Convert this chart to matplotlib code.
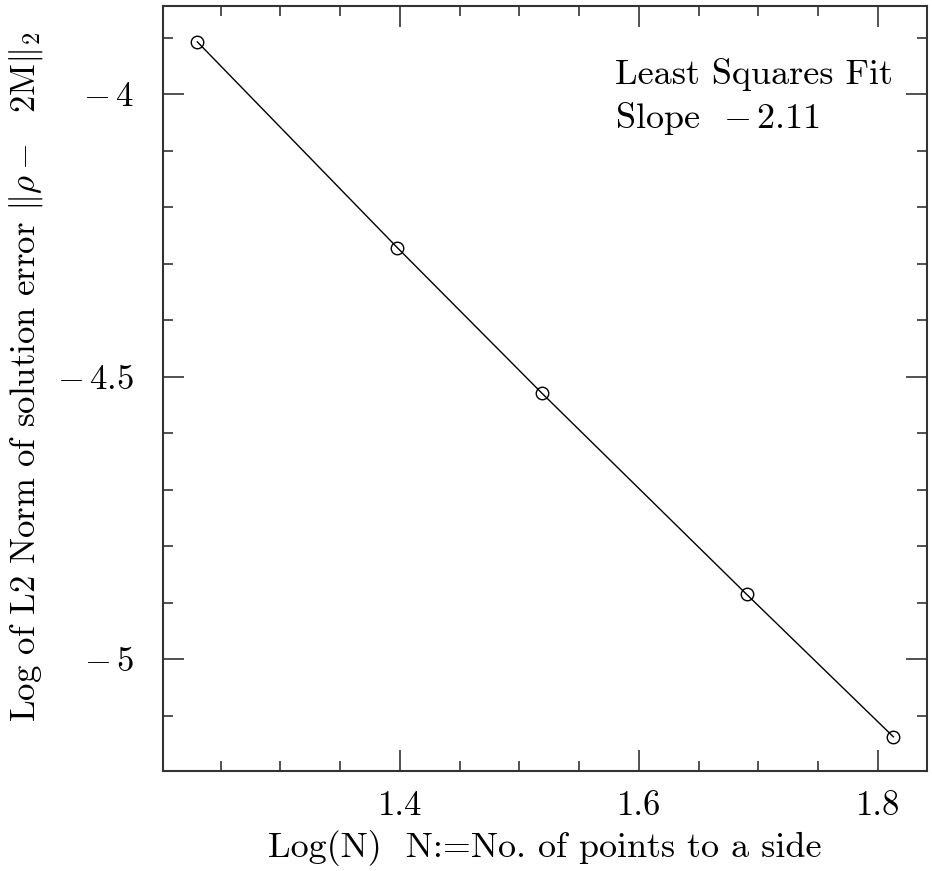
import numpy as np
import matplotlib
matplotlib.use("Agg")
import matplotlib.pyplot as plt
from matplotlib.ticker import MultipleLocator, FuncFormatter

# Data
log_n = [1.2304, 1.3979, 1.5185, 1.6902, 1.8129]
log_err = [-3.9074, -4.272, -4.5287, -4.8855, -5.1375]
slope_text = "-2.11"

plt.rcParams['font.family'] = ['cmr10', 'DejaVu Serif']
plt.rcParams['mathtext.fontset'] = 'cm'
plt.rcParams['axes.formatter.use_mathtext'] = True


def fmt_num(v, p=None):
    s = '%g' % round(v, 3)
    if s.startswith('-'):
        return r'$-\,$' + s[1:]
    return s


fig = plt.figure(figsize=(9.32, 8.71), dpi=100)
ax = fig.add_axes([0.1749, 0.1148, 0.9946 - 0.1749, 0.9931 - 0.1148])

ax.plot(log_n, log_err, color='black', lw=1.0, marker='o', ms=9,
        mfc='none', mec='black', mew=1.0)

ax.set_xlim(1.2017, 1.841)
ax.set_ylim(-5.198, -3.844)

ax.xaxis.set_major_locator(MultipleLocator(0.2))
ax.xaxis.set_minor_locator(MultipleLocator(0.05))
ax.yaxis.set_major_locator(MultipleLocator(0.5))
ax.yaxis.set_minor_locator(MultipleLocator(0.1))
ax.xaxis.set_major_formatter(FuncFormatter(fmt_num))
ax.yaxis.set_major_formatter(FuncFormatter(fmt_num))

ax.tick_params(which='both', direction='in', top=True, right=True,
               color='#333333', width=1.2, labelsize=25)
ax.tick_params(axis='x', pad=14)
ax.tick_params(axis='y', pad=21)
ax.tick_params(which='major', length=15)
ax.tick_params(which='minor', length=7.5)
for s in ax.spines.values():
    s.set_linewidth(1.5)
    s.set_color('#333333')

ax.set_xlabel("Log(N)  N:=No. of points to a side", fontsize=26, labelpad=6)
ax.set_ylabel(r"Log of L2 Norm of solution error $\|\rho-$  2M$\|_2$",
              fontsize=25)
ax.yaxis.set_label_coords(-0.154, 0.515)

ax.text(615, 871 - 84, "Least Squares Fit", transform=None, fontsize=26,
        ha='left', va='baseline')
ax.text(615, 871 - 128, "Slope  " + fmt_num(float(slope_text)),
        transform=None, fontsize=26, ha='left', va='baseline')

fig.savefig("out.png", dpi=100)
